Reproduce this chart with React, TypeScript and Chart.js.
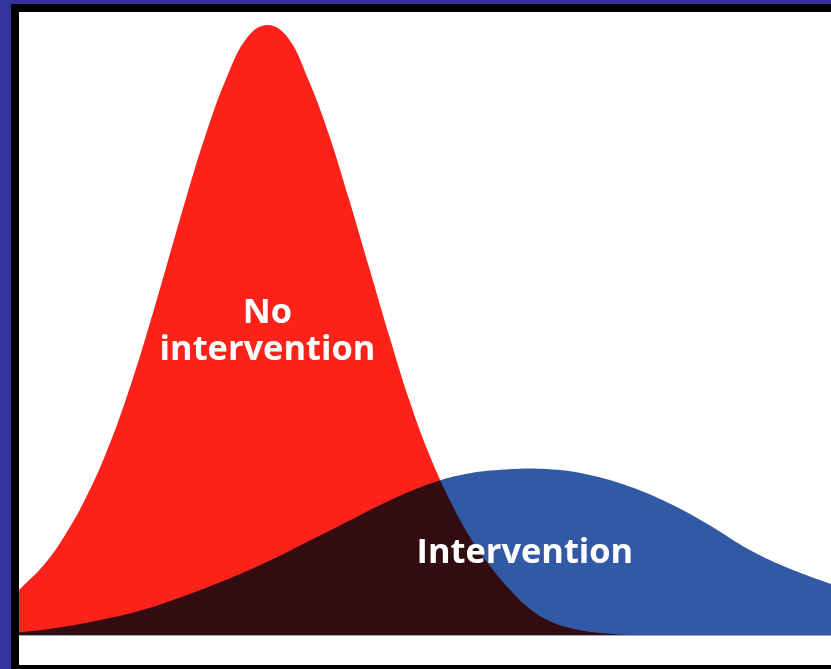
import React, { useEffect, useRef } from "react";
import { Chart, registerables } from "chart.js";

Chart.register(...registerables);

// x: time (0-100), y: cases (red peak = 100)
const noInterventionX = [0, 3.1, 5.6, 8.1, 10.6, 13.1, 15.6, 18.1, 20.6, 23.1, 25.6, 28.1, 30.6, 33.1, 35.6, 38.1, 40.6, 43.1, 45.6, 48.1, 50.6, 53.1, 55.6, 58.1, 60.6, 63.1, 65.6, 68.1, 70.6, 73.1, 75.6, 100];
const noInterventionY = [7.38, 11.56, 16.23, 22.13, 29.43, 38.36, 48.77, 60.16, 71.72, 82.46, 91.48, 97.95, 100, 97.95, 91.15, 82.3, 71.64, 60.33, 49.02, 38.36, 29.34, 21.97, 15.9, 11.15, 7.21, 4.1, 2.13, 1.07, 0.49, 0.16, 0, 0];

const interventionX = [0, 5, 10, 15, 20, 25, 30, 35, 40, 45, 50, 55, 60, 65, 70, 75, 80, 85, 90, 95, 100];
const interventionY = [0.41, 1.23, 2.46, 4.02, 6.23, 8.77, 11.64, 14.92, 18.28, 21.64, 24.51, 26.39, 27.13, 27.21, 26.31, 24.43, 21.64, 18.03, 13.93, 10.82, 8.36];

const labelTexts = [["No", "intervention"], ["Intervention"]];
const labelX = [30.6, 62.3];
const labelY = [[51.1, 45.1], [11.8]];

const X_MAX = 100;
const Y_MAX = 102.13;

export default function App() {
  const canvasRef = useRef<HTMLCanvasElement | null>(null);

  useEffect(() => {
    const canvas = canvasRef.current;
    if (!canvas) return;

    const blendPlugin = {
      id: "blend",
      beforeDatasetsDraw(chart: any) {
        chart.ctx.save();
        chart.ctx.globalCompositeOperation = "multiply";
      },
      afterDatasetsDraw(chart: any) {
        chart.ctx.restore();
        const { ctx, chartArea } = chart;
        ctx.save();
        ctx.strokeStyle = "#a3aabd";
        ctx.lineWidth = 1;
        ctx.beginPath();
        ctx.moveTo(chartArea.left, chartArea.bottom + 0.5);
        ctx.lineTo(chartArea.right, chartArea.bottom + 0.5);
        ctx.stroke();
        ctx.restore();
      },
      afterDraw(chart: any) {
        const { ctx, scales } = chart;
        ctx.save();
        ctx.fillStyle = "#ffffff";
        ctx.font = "bold 34.4px 'Open Sans', sans-serif";
        ctx.textAlign = "center";
        ctx.textBaseline = "alphabetic";
        labelTexts.forEach((lines, i) => {
          lines.forEach((t, j) => {
            const px = scales.x.getPixelForValue(labelX[i]);
            const py = scales.y.getPixelForValue(labelY[i][j]);
            ctx.fillText(t, px, py);
          });
        });
        ctx.restore();
      },
    };

    const chart = new Chart(canvas, {
      type: "line",
      data: {
        datasets: [
          {
            label: "No intervention",
            data: noInterventionX.map((x, i) => ({ x, y: noInterventionY[i] })),
            backgroundColor: "#fc2219",
            borderWidth: 0,
            pointRadius: 0,
            fill: "origin",
            tension: 0.4,
          },
          {
            label: "Intervention",
            data: interventionX.map((x, i) => ({ x, y: interventionY[i] })),
            backgroundColor: "#3259a3",
            borderWidth: 0,
            pointRadius: 0,
            fill: "origin",
            tension: 0.4,
          },
        ],
      },
      options: {
        responsive: false,
        animation: false,
        layout: { padding: { left: 0, right: 0, top: 0, bottom: 30 } },
        plugins: { legend: { display: false }, tooltip: { enabled: false } },
        scales: {
          x: { type: "linear", min: 0, max: X_MAX, display: false },
          y: { min: 0, max: Y_MAX, display: false },
        },
      },
      plugins: [blendPlugin],
    } as any);

    return () => chart.destroy();
  }, []);

  return (
    <div style={{ position: "fixed", left: 0, top: 0, width: 831, height: 669, background: "#36329b", overflow: "hidden" }}>
      <div style={{ position: "absolute", left: 11, top: 4, width: 820, height: 665, background: "#000" }} />
      <div style={{ position: "absolute", left: 19, top: 12, width: 812, height: 653, background: "#fff" }} />
      <canvas ref={canvasRef} width={812} height={653} style={{ position: "absolute", left: 19, top: 12, width: 812, height: 653 }} />
    </div>
  );
}
